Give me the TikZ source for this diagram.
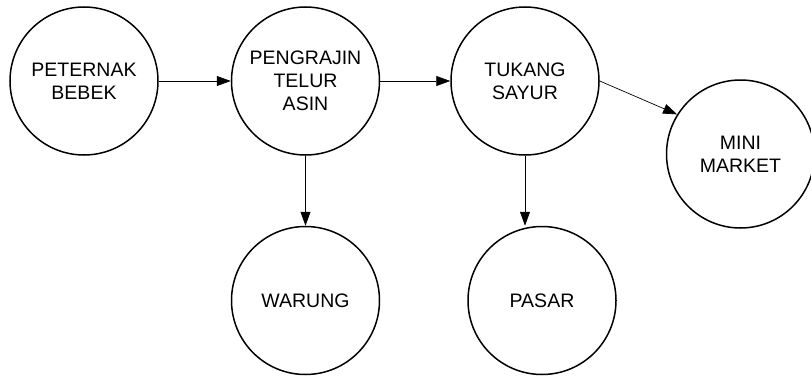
\documentclass[tikz,border=0pt]{standalone}
\usepackage{fontspec}
\setmainfont{Liberation Sans}
\usetikzlibrary{positioning, arrows.meta}
\tikzset{
    actornode/.style={
        circle, draw, line width=1.5pt, minimum size=148pt, inner sep=0pt,
        align=center, font=\fontsize{19.5}{22.8}\selectfont
    },
    flow/.style={
        -{Triangle[length=14pt, width=10pt]}, line width=0.7pt
    }
}

\begin{document}
\begin{tikzpicture}
    \useasboundingbox (0,0) rectangle (811pt,376pt);

    % --- VẼ CÁC NÚT ---
    \node[actornode] (PB) at (84pt,295pt) {PETERNAK\\BEBEK};
    \node[actornode, right=72pt of PB] (PTA) {PENGRAJIN\\TELUR\\ASIN};
    \node[actornode, right=70pt of PTA] (TS) {TUKANG\\SAYUR};
    \node[actornode, right=66pt of TS, yshift=-73pt] (MM) {MINI\\MARKET};
    \node[actornode, below=70pt of PTA] (W) {WARUNG};
    \node[actornode, below=70pt of TS, xshift=17pt] (P) {PASAR};

    % --- VẼ MŨI TÊN ---
    \draw[flow] (PB) -- (PTA);
    \draw[flow] (PTA) -- (TS);
    \draw[flow] (TS.east) -- (MM.148);
    \draw[flow] (PTA) -- (W);
    \draw[flow] (TS.south) -- (TS.south |- P.north);

\end{tikzpicture}
\end{document}
